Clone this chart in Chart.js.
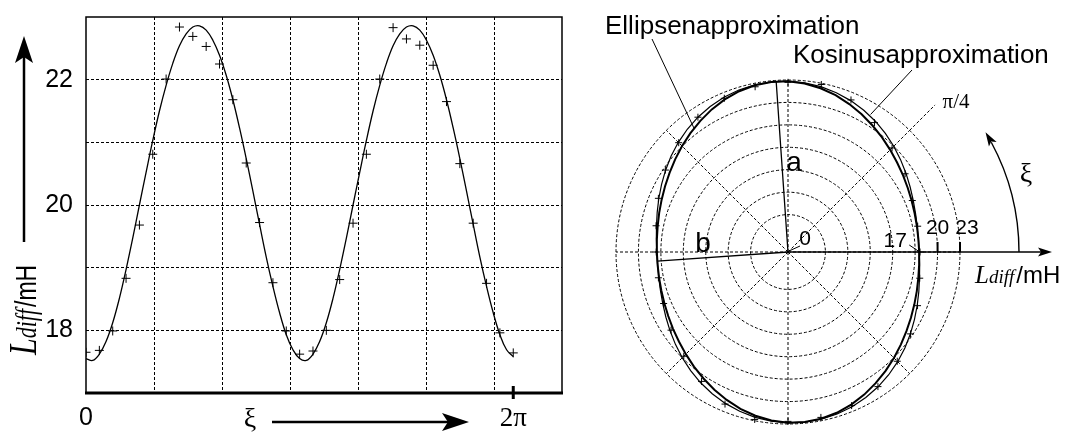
<!DOCTYPE html>
<html>
<head>
<meta charset="utf-8">
<script src="https://cdn.jsdelivr.net/npm/chart.js@4.4.1/dist/chart.umd.min.js"></script>
<style>
    html, body { margin: 0; padding: 0; background: #fff; }
    #wrap { position: relative; width: 1078px; height: 432px; overflow: hidden; }
    canvas { position: absolute; top: 0; }
    #left { left: 0; }
    #right { left: 580px; }
</style>
</head>
<body>
<div id="wrap">
    <canvas id="left" width="580" height="432"></canvas>
    <canvas id="right" width="498" height="432"></canvas>
</div>
<script>
// sampling step of the curves: pi/32 (measured points every pi/16)
const STEP = Math.PI / 32;
const TWO_PI = 2 * Math.PI;

// Kosinusapproximation, L_diff in mH, xi = 0 .. 2pi
const cosApprox = [
    17.55, 17.52, 17.62, 17.82, 18.12, 18.51, 18.97, 19.47, 20.00, 20.52, 21.03, 21.50, 21.91,
    22.26, 22.54, 22.73, 22.84, 22.86, 22.79, 22.63, 22.39, 22.07, 21.68, 21.23, 20.74, 20.22,
    19.69, 19.17, 18.70, 18.28, 17.93, 17.69, 17.55,
    17.52, 17.62, 17.82, 18.12, 18.51, 18.97, 19.47, 20.00, 20.52, 21.03, 21.50, 21.91,
    22.26, 22.54, 22.73, 22.84, 22.86, 22.79, 22.63, 22.39, 22.07, 21.68, 21.23, 20.74, 20.22,
    19.69, 19.17, 18.70, 18.28, 17.93, 17.69, 17.58
];

// Ellipsenapproximation (polar), xi = 0 .. 2pi - step
const ellipseApprox = [
    17.54, 17.52, 17.58, 17.70, 17.90, 18.16, 18.49, 18.87, 19.32, 19.82, 20.34, 20.89, 21.41,
    21.91, 22.33, 22.64, 22.82, 22.85, 22.73, 22.47, 22.09, 21.62, 21.10, 20.57, 20.03, 19.52,
    19.05, 18.64, 18.29, 18.00, 17.77, 17.62,
    17.54, 17.52, 17.58, 17.70, 17.90, 18.16, 18.49, 18.87, 19.32, 19.82, 20.34, 20.89, 21.41,
    21.91, 22.33, 22.64, 22.82, 22.85, 22.73, 22.47, 22.09, 21.62, 21.10, 20.57, 20.03, 19.52,
    19.05, 18.64, 18.29, 18.00, 17.77, 17.62
];

// measured L_diff, every pi/16 from 0 to 2pi
const measured = [
    17.65, 17.68, 17.99, 18.83, 19.68, 20.81, 22.01, 22.84, 22.69, 22.53, 22.25,
    21.68, 20.67, 19.72, 18.76, 17.99, 17.62, 17.67, 18.00, 18.81, 19.71, 20.81,
    22.01, 22.83, 22.65, 22.55, 22.23, 21.65, 20.66, 19.71, 18.75, 17.96, 17.64
];

const yLabelTicks = [18, 20, 22];
const ringValues = [5, 8, 11, 14, 17, 20, 23];
const majorAngle = 1.64;   // direction of a (rad)
const semiA = 22.86;
const semiB = 17.52;

function arrowHead(ctx, tx, ty, ang, len, half) {
    const c = Math.cos(ang), s = Math.sin(ang);
    const bx = tx - c * len, by = ty - s * len;
    ctx.beginPath();
    ctx.moveTo(tx, ty);
    ctx.lineTo(bx - s * half, by + c * half);
    ctx.lineTo(tx - c * len * 0.78, ty - s * len * 0.78);
    ctx.lineTo(bx + s * half, by - c * half);
    ctx.closePath();
    ctx.fill();
}

function drawRuns(ctx, x, y, runs) {
    runs.forEach(r => {
        ctx.font = r.font;
        ctx.fillText(r.text, x, y + (r.dy || 0));
        x += ctx.measureText(r.text).width + (r.gap || 0);
    });
}

// ---------- left chart: L_diff over xi ----------
const leftDeco = {
    id: 'leftDeco',
    afterDraw(chart) {
        const { ctx, chartArea: a } = chart;
        const x = chart.scales.x;
        ctx.save();
        ctx.strokeStyle = '#000';
        ctx.fillStyle = '#000';
        ctx.lineWidth = 1.5;
        ctx.beginPath();
        ctx.moveTo(a.left, a.bottom);
        ctx.lineTo(a.left, a.top);
        ctx.lineTo(a.right, a.top);
        ctx.lineTo(a.right, a.bottom);
        ctx.stroke();
        ctx.lineWidth = 3;
        ctx.beginPath();
        ctx.moveTo(a.left - 1, a.bottom);
        ctx.lineTo(a.right + 1, a.bottom);
        ctx.stroke();
        // 2pi tick mark
        const px = x.getPixelForValue(TWO_PI);
        ctx.beginPath();
        ctx.moveTo(px, a.bottom - 7);
        ctx.lineTo(px, a.bottom + 6);
        ctx.stroke();

        // y arrow
        ctx.lineWidth = 2.5;
        ctx.beginPath();
        ctx.moveTo(24, 242);
        ctx.lineTo(24, 56);
        ctx.stroke();
        arrowHead(ctx, 24, 36, -Math.PI / 2, 27, 9);

        // x arrow + xi
        ctx.beginPath();
        ctx.moveTo(272, 422);
        ctx.lineTo(450, 422);
        ctx.stroke();
        arrowHead(ctx, 469, 422, 0, 27, 9);
        ctx.font = '28px "Liberation Serif"';
        ctx.textAlign = 'center';
        ctx.textBaseline = 'middle';
        ctx.fillText('ξ', 250, 420);

        // y title, rotated
        ctx.translate(36, 355);
        ctx.rotate(-Math.PI / 2);
        ctx.scale(1, 1.3);
        ctx.textAlign = 'left';
        ctx.textBaseline = 'alphabetic';
        drawRuns(ctx, 0, 0, [
            { text: 'L', font: 'italic 30px "Liberation Serif"' },
            { text: 'diff', font: 'italic 22px "Liberation Serif"', gap: 2 },
            { text: '/mH', font: '23px "Liberation Sans"' }
        ]);
        ctx.restore();
    }
};

const curvePts = cosApprox.map((v, k) => ({ x: k * STEP, y: v }));
const measPts = measured.map((v, j) => ({ x: j * 2 * STEP, y: v }));
const isTwoPi = v => Math.abs(v - TWO_PI) < 1e-6;

new Chart(document.getElementById('left'), {
    type: 'scatter',
    data: {
        datasets: [{
            data: curvePts,
            showLine: true,
            borderColor: '#000',
            borderWidth: 1.3,
            pointRadius: 0,
            tension: 0.4
        }, {
            data: measPts,
            showLine: false,
            pointStyle: 'cross',
            pointRadius: 4.5,
            borderColor: '#000',
            borderWidth: 1
        }]
    },
    options: {
        responsive: false,
        animation: false,
        devicePixelRatio: 1,
        layout: { padding: { left: 0, top: 17, right: 18, bottom: 0 } },
        plugins: { legend: { display: false }, tooltip: { enabled: false } },
        scales: {
            x: {
                type: 'linear',
                min: 0,
                max: 7,
                afterBuildTicks: s => {
                    s.ticks = [0, 1, 2, 3, 4, 5, 6, TWO_PI, 7].map(v => ({ value: v }));
                },
                afterFit: s => {
                    s.height = 39;
                    s.paddingLeft = 0;
                    s.paddingRight = 0;
                },
                grid: {
                    color: c => (c.tick && (c.tick.value === 0 || c.tick.value === 7 || isTwoPi(c.tick.value))) ? 'rgba(0,0,0,0)' : '#000',
                    lineWidth: 1,
                    drawTicks: false
                },
                border: { display: false, dash: [3, 2] },
                ticks: {
                    autoSkip: false,
                    maxRotation: 0,
                    padding: 10,
                    color: '#000',
                    font: c => (c.tick && isTwoPi(c.tick.value)) ? { family: 'Liberation Serif', size: 27 } : { family: 'Liberation Sans', size: 25 },
                    callback: v => v === 0 ? '0' : (isTwoPi(v) ? '2π' : '')
                }
            },
            y: {
                min: 17,
                max: 23,
                afterFit: s => {
                    s.width = 86;
                    s.paddingTop = 0;
                    s.paddingBottom = 0;
                },
                grid: {
                    color: c => (c.tick && (c.tick.value === 17 || c.tick.value === 23)) ? 'rgba(0,0,0,0)' : '#000',
                    lineWidth: 1,
                    drawTicks: false
                },
                border: { display: false, dash: [3, 2] },
                ticks: {
                    stepSize: 1,
                    padding: 13,
                    color: '#000',
                    font: { family: 'Liberation Sans', size: 25 },
                    callback: v => yLabelTicks.includes(v) ? String(v) : ''
                }
            }
        }
    },
    plugins: [leftDeco]
});

// ---------- right chart: polar plot ----------
const N = ellipseApprox.length;
// radar runs clockwise from 3 o'clock, xi runs counter-clockwise
const order = i => (N - i) % N;
const polarLabels = ellipseApprox.map(() => '');
const ellipseR = ellipseApprox.map((_, i) => ellipseApprox[order(i)]);
const cosR = ellipseApprox.map((_, i) => cosApprox[order(i)]);
const measR = ellipseApprox.map((_, i) => {
    const k = order(i);
    return k % 2 === 0 ? measured[k / 2] : null;
});

const polarDeco = {
    id: 'polarDeco',
    afterDraw(chart) {
        const r = chart.scales.r;
        const ctx = chart.ctx;
        const cx = r.xCenter, cy = r.yCenter;
        const dist = v => r.getDistanceFromCenterForValue(v);
        const pt = (ang, v) => ({ x: cx + dist(v) * Math.cos(ang), y: cy - dist(v) * Math.sin(ang) });
        const outer = dist(23);
        ctx.save();
        ctx.strokeStyle = '#000';
        ctx.fillStyle = '#000';

        // pi/4 line beyond the outer ring
        ctx.lineWidth = 1;
        ctx.setLineDash([3, 2]);
        ctx.beginPath();
        ctx.moveTo(cx + outer * Math.SQRT1_2, cy - outer * Math.SQRT1_2);
        ctx.lineTo(cx + (outer + 36) * Math.SQRT1_2, cy - (outer + 36) * Math.SQRT1_2);
        ctx.stroke();
        ctx.setLineDash([]);

        // L_diff axis arrow
        ctx.lineWidth = 1.4;
        ctx.beginPath();
        ctx.moveTo(cx, cy);
        ctx.lineTo(462, cy);
        ctx.stroke();
        arrowHead(ctx, 472, cy, 0, 14, 4.5);

        // xi arc arrow
        const R = 231, th = 0.545;
        ctx.beginPath();
        ctx.arc(cx, cy, R, 0, -(th - 0.05), true);
        ctx.stroke();
        arrowHead(ctx, cx + R * Math.cos(th), cy - R * Math.sin(th),
            Math.atan2(-Math.cos(th), -Math.sin(th)), 14, 4.5);

        // a and b
        ctx.lineWidth = 1.3;
        const pa = pt(majorAngle, semiA), pb = pt(majorAngle + Math.PI / 2, semiB);
        ctx.beginPath();
        ctx.moveTo(cx, cy); ctx.lineTo(pa.x, pa.y);
        ctx.moveTo(cx, cy); ctx.lineTo(pb.x, pb.y);
        ctx.stroke();

        // ring value marks
        ctx.lineWidth = 2;
        [20, 23].forEach(v => {
            ctx.beginPath();
            ctx.moveTo(cx + dist(v), cy - 10);
            ctx.lineTo(cx + dist(v), cy);
            ctx.stroke();
        });
        ctx.lineWidth = 1;
        const p17 = pt(0, cosApprox[0]);
        ctx.beginPath();
        ctx.moveTo(p17.x - 10, cy - 7); ctx.lineTo(p17.x - 1, cy - 1);
        ctx.moveTo(cx + 12, cy - 6); ctx.lineTo(cx + 1, cy - 1);
        ctx.stroke();

        // leader lines
        const le = pt(2.22, 20.8), lk = pt(1.03, 21.45);
        ctx.beginPath();
        ctx.moveTo(72, 39); ctx.lineTo(le.x, le.y);
        ctx.moveTo(332, 70); ctx.lineTo(lk.x, lk.y);
        ctx.stroke();

        // texts
        ctx.textBaseline = 'alphabetic';
        ctx.textAlign = 'left';
        ctx.font = '26px "Liberation Sans"';
        ctx.fillText('Ellipsenapproximation', 25, 34);
        ctx.fillText('Kosinusapproximation', 213, 63);

        ctx.textAlign = 'center';
        ctx.textBaseline = 'middle';
        ctx.font = '28px "Liberation Sans"';
        ctx.fillText('a', 214, 163);
        ctx.fillText('b', 123, 244);
        ctx.font = '21px "Liberation Sans"';
        ctx.fillText('0', cx + 17, 239);
        ctx.fillText('17', p17.x - 24, 241);
        ctx.fillText('20', cx + dist(20), 228);
        ctx.fillText('23', cx + dist(23) + 7, 228);
        ctx.font = '21px "Liberation Serif"';
        ctx.fillText('π/4', 376, 102);
        ctx.font = '28px "Liberation Serif"';
        ctx.fillText('ξ', 446, 175);

        ctx.textAlign = 'left';
        ctx.textBaseline = 'alphabetic';
        drawRuns(ctx, 395, 283, [
            { text: 'L', font: 'italic 25px "Liberation Serif"' },
            { text: 'diff', font: 'italic 19px "Liberation Serif"', gap: 2 },
            { text: '/mH', font: '24px "Liberation Sans"' }
        ]);
        ctx.restore();
    }
};

new Chart(document.getElementById('right'), {
    type: 'radar',
    data: {
        labels: polarLabels,
        datasets: [{
            label: 'Ellipsenapproximation',
            data: ellipseR,
            borderColor: '#000',
            borderWidth: 2,
            pointRadius: 0,
            fill: false
        }, {
            label: 'Kosinusapproximation',
            data: cosR,
            borderColor: '#000',
            borderWidth: 1.2,
            pointRadius: 0,
            fill: false
        }, {
            label: 'Messung',
            data: measR,
            showLine: false,
            pointStyle: 'cross',
            pointRadius: 3.5,
            borderColor: '#000',
            borderWidth: 1,
            fill: false
        }]
    },
    options: {
        responsive: false,
        animation: false,
        devicePixelRatio: 1,
        layout: { padding: { left: 36, top: 80, right: 117, bottom: 7 } },
        elements: { line: { tension: 0, fill: false } },
        plugins: { legend: { display: false }, tooltip: { enabled: false } },
        scales: {
            r: {
                min: 0,
                max: 23,
                startAngle: 90,
                afterBuildTicks: s => {
                    s.ticks = [0, ...ringValues].map(v => ({ value: v }));
                },
                ticks: { display: false },
                pointLabels: { display: false },
                grid: { circular: true, color: '#000', lineWidth: 1 },
                border: { dash: [3, 2] },
                angleLines: {
                    color: '#000',
                    lineWidth: c => c.index % 8 === 0 ? 1 : 0,
                    borderDash: [3, 2]
                }
            }
        }
    },
    plugins: [polarDeco]
});
</script>
</body>
</html>
